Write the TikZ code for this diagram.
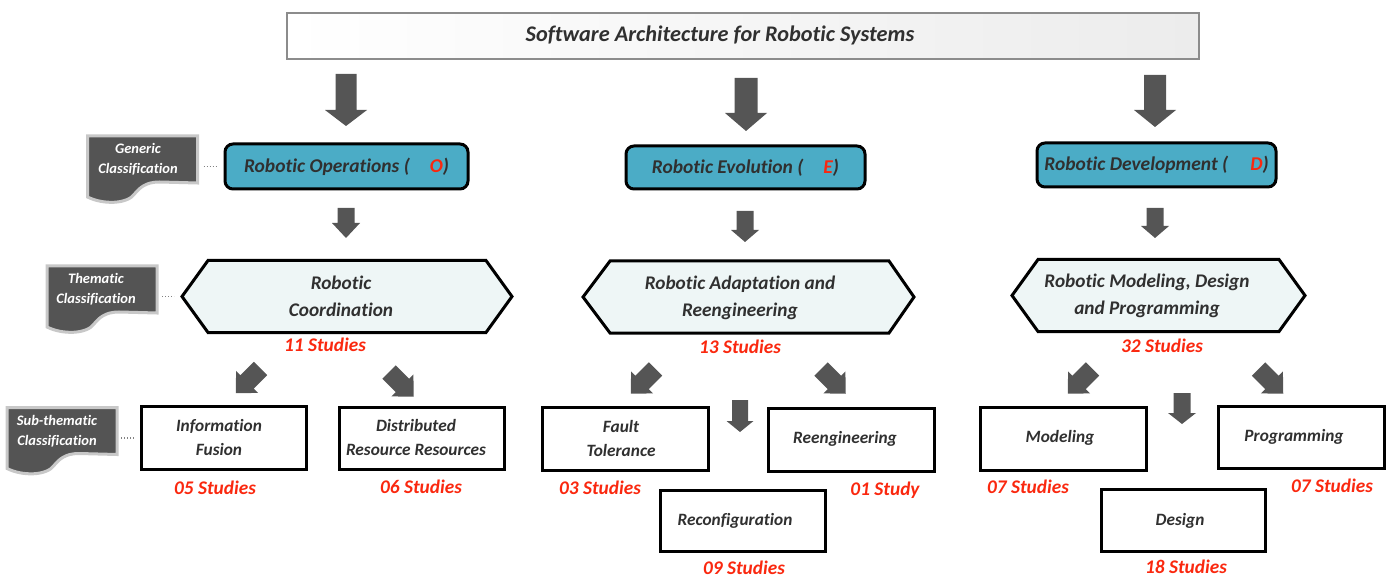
\documentclass[tikz,border=0pt]{standalone}
\usepackage{fontspec}
\setmainfont{Carlito}[Ligatures=NoCommon]
\usetikzlibrary{calc}
\definecolor{arrowgray}{RGB}{85,85,85}
\definecolor{tealfill}{RGB}{75,172,198}
\definecolor{hexfill}{RGB}{238,246,246}
\definecolor{txtgray}{RGB}{48,48,48}
\definecolor{studyred}{RGB}{250,40,15}
\definecolor{docfill}{RGB}{84,84,84}
\definecolor{docedge}{RGB}{200,200,200}
\definecolor{titleedge}{RGB}{140,140,140}
\definecolor{titleshade}{RGB}{236,236,236}
\definecolor{dotgray}{RGB}{130,130,130}
\tikzset{
  pics/barrow/.style n args={4}{code={
    \fill[arrowgray] (0,-#1/2) -- (#3,-#1/2) -- (#3,-#2/2) -- ({#3+#4},0) -- (#3,#2/2) -- (#3,#1/2) -- (0,#1/2) -- cycle;}},
}
\begin{document}
\begin{tikzpicture}[x=1pt,y=-1pt,
  every node/.style={inner sep=0pt, outer sep=0pt, text=txtgray},
  titlebox/.style={draw=titleedge, line width=2.5pt, left color=white, right color=titleshade},
  titletext/.style={font=\bfseries\itshape\fontsize{22.3}{26}\selectfont},
  lonebox/.style={draw=black, line width=3pt, fill=tealfill, rounded corners=8pt,
    font=\bfseries\itshape\fontsize{19.5}{24}\selectfont},
  hexin/.style={draw=none, minimum height=72},
  hexline/.style={draw=black, line width=3pt, fill=hexfill, line join=miter},
  hextext/.style={align=center, font=\bfseries\itshape\fontsize{19.3}{27}\selectfont},
  lthree/.style={draw=black, line width=3pt, fill=white},
  lthreetext/.style={align=center, font=\bfseries\itshape\fontsize{17.3}{24}\selectfont},
  study/.style={text=studyred, font=\bfseries\itshape\fontsize{19.3}{22}\selectfont},
  docnode/.style={minimum width=110, minimum height=67},
  docshape/.style={fill=docfill, draw=docedge, line width=3pt},
  doctext/.style={text=white, align=center, font=\bfseries\itshape\fontsize{14.5}{20}\selectfont},
  dotline/.style={draw=dotgray, line width=1.3pt, dash pattern=on 1.3pt off 1.7pt},
]
\useasboundingbox (0,0) rectangle (1392,577);

% title
\node[titlebox, minimum width=912, minimum height=46] (title) at (743,36) {};
\node[titletext] (titletxt) at (720,35) {Software Architecture for Robotic Systems};

% big arrows
\pic[rotate=-90] at (346,74) {barrow={21}{42}{36}{16}};
\pic[rotate=-90] at (746,78) {barrow={23}{42}{35}{18}};
\pic[rotate=-90] at (1155,75) {barrow={22}{42}{35}{17}};

% level 1
\node[lonebox, minimum width=243, minimum height=45] (ops) at (346.5,166.5)
  {Robotic Operations (\hspace{20pt}\textcolor{studyred}{O})};
\node[lonebox, minimum width=239, minimum height=43] (evo) at (745.5,167.5)
  {Robotic Evolution (\hspace{20pt}\textcolor{studyred}{E})};
\node[lonebox, minimum width=239, minimum height=44] (dev) at (1156.5,165)
  {Robotic Development (\hspace{22pt}\textcolor{studyred}{D})};

% small arrows
\pic[rotate=-90] at (346,208) {barrow={17}{28}{15}{15}};
\pic[rotate=-90] at (745,211) {barrow={17}{28}{19}{12}};
\pic[rotate=-90] at (1155,208) {barrow={17}{28}{18}{12}};

% hexagons
\node[hexin, minimum width=278] (coord) at (347,296.5) {};
\draw[hexline] (coord.north west) -- (coord.north east) -- ([xshift=26pt]coord.east)
  -- (coord.south east) -- (coord.south west) -- ([xshift=-26pt]coord.west) -- cycle;
\node[hextext] (coordtxt) at (341,296) {Robotic\\Coordination};

\node[hexin, minimum width=279] (adapt) at (749.5,297) {};
\draw[hexline] (adapt.north west) -- (adapt.north east) -- ([xshift=25pt]adapt.east)
  -- (adapt.south east) -- (adapt.south west) -- ([xshift=-27pt]adapt.west) -- cycle;
\node[hextext] (adapttxt) at (740,297.5) {Robotic Adaptation and\\Reengineering};

\node[hexin, minimum width=241] (model) at (1158.5,295.5) {};
\draw[hexline] (model.north west) -- (model.north east) -- ([xshift=26pt]model.east)
  -- (model.south east) -- (model.south west) -- ([xshift=-26pt]model.west) -- cycle;
\node[hextext] (modeltxt) at (1147,296) {Robotic Modeling, Design\\and Programming};

\node[study] (s11) at (325,345) {11 Studies};
\node[study] (s13) at (740,347) {13 Studies};
\node[study] (s32) at (1162,346) {32 Studies};

% diagonal and lower arrows
\pic[rotate=-135] at (260.5,368.5) {barrow={19}{31}{19}{16}};
\pic[rotate=-45] at (389,372) {barrow={19}{31}{19}{16}};
\pic[rotate=-135] at (655.5,369) {barrow={19}{31}{19}{16}};
\pic[rotate=-45] at (821,369) {barrow={19}{31}{19}{16}};
\pic[rotate=-90] at (740,400) {barrow={16}{27}{21}{11}};
\pic[rotate=-135] at (1092.5,369) {barrow={19}{31}{19}{16}};
\pic[rotate=-45] at (1258.5,369) {barrow={19}{31}{19}{16}};
\pic[rotate=-90] at (1182,393) {barrow={17}{28}{20}{11}};

% level 3 boxes
\node[lthree, minimum width=165, minimum height=63] (fusion) at (224,438) {};
\node[lthreetext] (fusiontxt) at (219,437) {Information\\Fusion};
\node[lthree, minimum width=165, minimum height=62] (distrib) at (422,438.5) {};
\node[lthreetext] (distribtxt) at (416,437.5) {Distributed\\Resource Resources};
\node[lthree, minimum width=166, minimum height=63] (fault) at (625.5,439) {};
\node[lthreetext] (faulttxt) at (621,438) {Fault\\Tolerance};
\node[lthree, minimum width=166, minimum height=63] (reeng) at (851.5,440) {};
\node[lthreetext] (reengtxt) at (845,439) {Reengineering};
\node[lthree, minimum width=165, minimum height=61] (reconf) at (743,521) {};
\node[lthreetext] (reconftxt) at (735,521) {Reconfiguration};
\node[lthree, minimum width=166, minimum height=63] (modeling) at (1063.5,439) {};
\node[lthreetext] (modelingtxt) at (1060,438) {Modeling};
\node[lthree, minimum width=166, minimum height=62] (prog) at (1301.5,437.5) {};
\node[lthreetext] (progtxt) at (1294,437) {Programming};
\node[lthree, minimum width=164, minimum height=62] (design) at (1183.5,520.5) {};
\node[lthreetext] (designtxt) at (1180,521) {Design};

\node[study] (s05) at (215,488) {05 Studies};
\node[study] (s06) at (421,487) {06 Studies};
\node[study] (s03) at (600,488) {03 Studies};
\node[study] (s01) at (885,490) {01 Study};
\node[study] (s09) at (744,568) {09 Studies};
\node[study] (s07a) at (1028,487) {07 Studies};
\node[study] (s07b) at (1332,486) {07 Studies};
\node[study] (s18) at (1186,567) {18 Studies};

% classification documents
\node[docnode] (gdoc) at (142.5,169.5) {};
\path[docshape, shift={(gdoc.north west)}] (0,0) -- (110,0) -- (110,47) -- (72,46)
  .. controls (58,46) and (52,52) .. (47,58) .. controls (40,68) and (16,69) .. (0,61) -- cycle;
\node[doctext] (gtxt) at (138,159) {Generic\\Classification};

\node[docnode] (tdoc) at (102,299.5) {};
\path[docshape, shift={(tdoc.north west)}] (0,0) -- (110,0) -- (110,47) -- (72,46)
  .. controls (58,46) and (52,52) .. (47,58) .. controls (40,68) and (16,69) .. (0,61) -- cycle;
\node[doctext] (ttxt) at (96,289) {Thematic\\Classification};

\node[docnode] (sdoc) at (62,441) {};
\path[docshape, shift={(sdoc.north west)}] (0,0) -- (110,0) -- (110,47) -- (72,46)
  .. controls (58,46) and (52,52) .. (47,58) .. controls (40,68) and (16,69) .. (0,61) -- cycle;
\node[doctext] (stxt) at (57,431) {Sub-thematic\\Classification};

% dotted connectors
\draw[dotline, shorten <=6pt, shorten >=8pt] (gdoc.east |- ops.west) -- (ops.west);
\draw[dotline, shorten <=5pt, shorten >=8pt] (tdoc.east |- coord.west) -- ([xshift=-26pt]coord.west);
\draw[dotline, shorten <=4pt, shorten >=6pt] (sdoc.east |- fusion.west) -- (fusion.west);
\end{tikzpicture}
\end{document}
